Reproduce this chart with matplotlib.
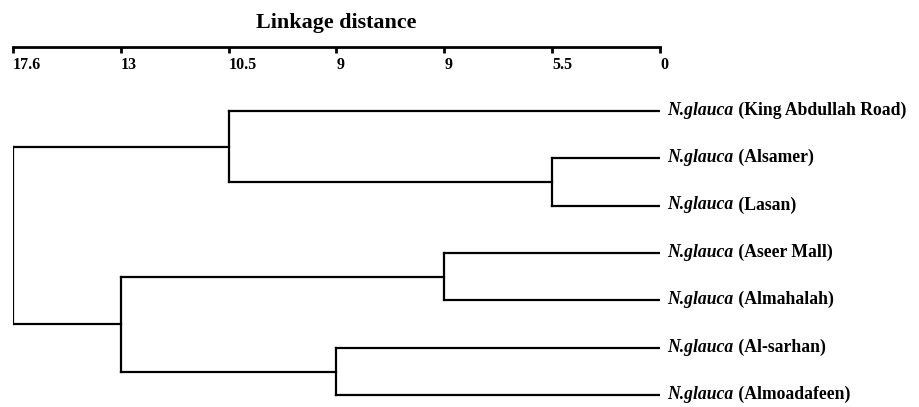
import matplotlib
matplotlib.use('Agg')
import matplotlib.pyplot as plt
from matplotlib.offsetbox import TextArea, HPacker, AnnotationBbox

# leaves, top to bottom
leaf_names = ['King Abdullah Road', 'Alsamer', 'Lasan', 'Aseer Mall',
              'Almahalah', 'Al-sarhan', 'Almoadafeen']
species = 'N.glauca'

# linkage distance labels shown on the axis (slots are evenly spaced)
tick_labels = ['17.6', '13', '10.5', '9', '9', '5.5', '0']

# merges: ids 0-6 are leaves, merge k creates cluster 7 + k
merge_left = [1, 0, 3, 5, 9, 8]
merge_right = [2, 7, 4, 6, 10, 11]
merge_level = [5, 2, 4, 3, 1, 0]   # slot on the distance axis
leaf_level = 6

plt.rcParams['font.family'] = ['Liberation Serif', 'DejaVu Serif']
plt.rcParams['font.weight'] = 'bold'

fig = plt.figure(figsize=(9.2, 4.07), dpi=100)
W, H = 920, 407
ax = fig.add_axes([13 / W, 1 - 400 / H, 647 / W, 353 / H])

node_x = {i: leaf_level for i in range(len(leaf_names))}
node_y = {i: i for i in range(len(leaf_names))}

lw = 1.6
for k, (a, b, lev) in enumerate(zip(merge_left, merge_right, merge_level)):
    ax.plot([lev, lev], [node_y[a], node_y[b]], color='black', lw=lw,
            solid_capstyle='projecting')
    for c in (a, b):
        ax.plot([lev, node_x[c]], [node_y[c], node_y[c]], color='black', lw=lw,
                solid_capstyle='projecting')
    node_x[7 + k] = lev
    node_y[7 + k] = (node_y[a] + node_y[b]) / 2

# leaf labels: italic species name + bold site name, on one baseline
fs = 12.7
for i, name in enumerate(leaf_names):
    part1 = TextArea(species, textprops=dict(fontsize=fs, fontstyle='italic',
                                             fontweight='bold'))
    part2 = TextArea(' (' + name + ')', textprops=dict(fontsize=fs,
                                                       fontweight='bold'))
    box = HPacker(children=[part1, part2], align='baseline', pad=0, sep=0)
    ab = AnnotationBbox(box, (leaf_level, i), xybox=(5.5, 0),
                        boxcoords='offset points', box_alignment=(0, 0.45),
                        frameon=False, pad=0, annotation_clip=False)
    ax.add_artist(ab)

ax.set_xlim(0, 6)
ax.set_ylim(6.1, -1.35)
ax.set_xticks(range(len(tick_labels)))
ax.set_xticklabels(tick_labels)
ax.tick_params(axis='x', top=True, labeltop=True, bottom=False,
               labelbottom=False, direction='in', length=4, width=2,
               pad=-19, labelsize=11.5)
for lbl in ax.get_xticklabels():
    lbl.set_ha('left')
ax.set_yticks([])
for s in ['left', 'right', 'bottom']:
    ax.spines[s].set_visible(False)
ax.spines['top'].set_linewidth(2)
ax.set_title('Linkage distance', fontsize=15.8, fontweight='bold', pad=14)

fig.savefig('out.png', dpi=100)
